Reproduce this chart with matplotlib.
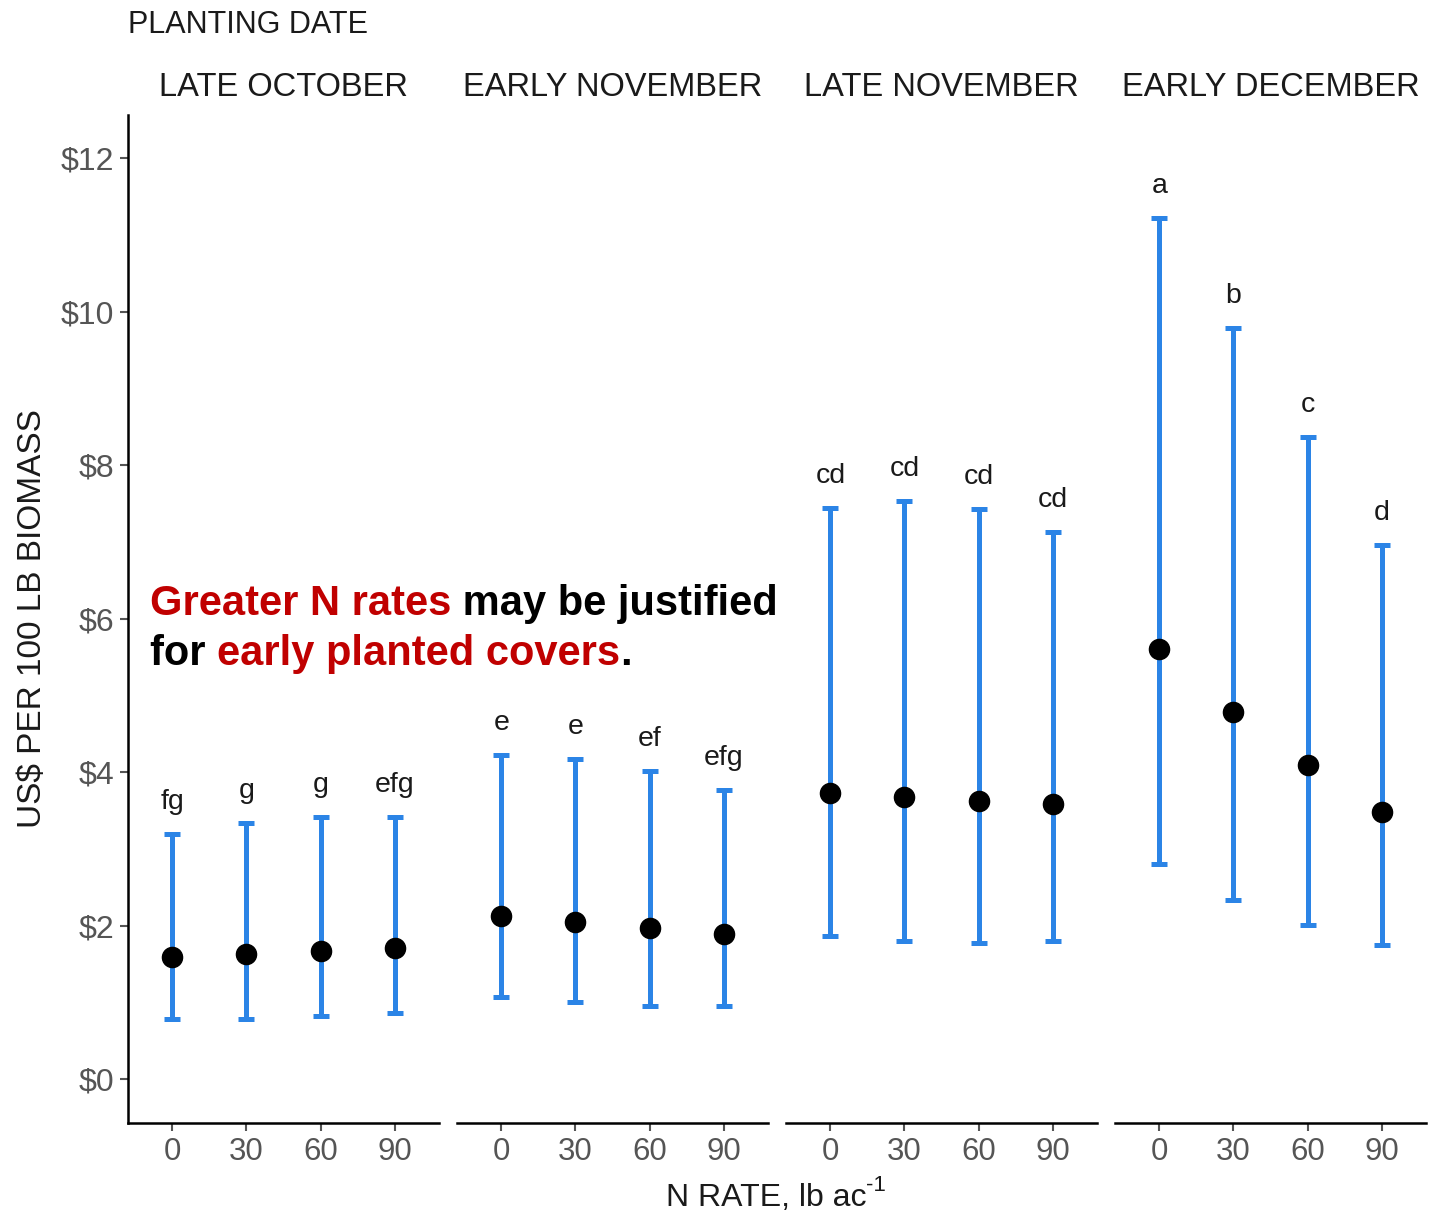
import numpy as np
import matplotlib
matplotlib.use("Agg")
import matplotlib.pyplot as plt

plt.rcParams["font.family"] = ["Liberation Sans", "DejaVu Sans"]

# planting dates (one panel each) and N rates
dates = ["LATE OCTOBER", "EARLY NOVEMBER", "LATE NOVEMBER", "EARLY DECEMBER"]
n_rates = ["0", "30", "60", "90"]

# cost, US$ per 100 lb biomass: mean, lower and upper limits
mean = [
    [1.59, 1.63, 1.67, 1.71],
    [2.12, 2.05, 1.97, 1.89],
    [3.73, 3.67, 3.62, 3.58],
    [5.60, 4.78, 4.09, 3.48],
]
lower = [
    [0.79, 0.79, 0.82, 0.86],
    [1.07, 1.00, 0.96, 0.95],
    [1.86, 1.80, 1.77, 1.80],
    [2.81, 2.33, 2.01, 1.75],
]
upper = [
    [3.19, 3.34, 3.41, 3.41],
    [4.22, 4.17, 4.01, 3.77],
    [7.44, 7.53, 7.43, 7.13],
    [11.22, 9.78, 8.36, 6.96],
]
letters = [
    ["fg", "g", "g", "efg"],
    ["e", "e", "ef", "efg"],
    ["cd", "cd", "cd", "cd"],
    ["a", "b", "c", "d"],
]

blue = "#2b84e6"
grey = "#555555"
dark = "#1a1a1a"

fig = plt.figure(figsize=(14.29, 12.13), dpi=100)
W, H = 1429, 1213
panel_left = [128, 457, 786, 1115]
panel_w = 311
top_px, bot_px = 115, 1123

for i, d in enumerate(dates):
    ax = fig.add_axes([panel_left[i] / W, 1 - bot_px / H, panel_w / W, (bot_px - top_px) / H])
    x = np.arange(len(n_rates))
    m = np.array(mean[i])
    lo = np.array(lower[i])
    hi = np.array(upper[i])
    ax.errorbar(x, m, yerr=[m - lo, hi - m], fmt="none", ecolor=blue,
                elinewidth=3.6, capsize=5.5, capthick=3.6, zorder=2)
    ax.plot(x, m, "o", color="black", markersize=14.5, zorder=3)
    for xi, hv, lab in zip(x, hi, letters[i]):
        ax.annotate(lab, (xi, hv), xytext=(0, 18), textcoords="offset points",
                    ha="center", va="baseline", fontsize=20.5, color=dark)
    ax.set_xlim(-0.6, 3.6)
    ax.set_ylim(-0.57, 12.56)
    ax.set_xticks(x)
    ax.set_xticklabels(n_rates)
    ax.tick_params(axis="x", labelsize=22.5, labelcolor=grey, color=grey, length=6, width=1.5, pad=4)
    for s in ["top", "right"]:
        ax.spines[s].set_visible(False)
    ax.spines["bottom"].set_linewidth(1.8)
    if i == 0:
        ax.spines["left"].set_linewidth(1.8)
        ax.set_yticks(np.arange(0, 13, 2))
        ax.set_yticklabels([f"${v}" for v in range(0, 13, 2)])
        ax.tick_params(axis="y", labelsize=23, labelcolor=grey, color=grey, length=6, width=1.5, pad=4)
        ax.set_ylabel("US$ PER 100 LB BIOMASS", fontsize=24, color=dark, labelpad=9)
    else:
        ax.spines["left"].set_visible(False)
        ax.set_yticks([])
    ax.set_title(d, fontsize=23.5, color=dark, pad=14)

fig.text(128 / W, 1 - 25 / H, "PLANTING DATE", fontsize=22, color=dark,
         ha="left", va="center")

renderer = fig.canvas.get_renderer()

# x-axis title with a hyphen superscript
xl = fig.text(0, 1 - 1206 / H, "N RATE, lb ac", fontsize=23, color=dark,
              ha="left", va="baseline")
xw = xl.get_window_extent(renderer=renderer).width
sup = fig.text(0, 1 - 1191 / H, "-1", fontsize=16, color=dark,
               ha="left", va="baseline")
sw = sup.get_window_extent(renderer=renderer).width
x0 = 776 - (xw + sw) / 2
xl.set_x(x0 / W)
sup.set_x((x0 + xw) / W)

# two-colour callout, drawn piece by piece
red = "#c00000"
lines = [
    [("Greater N rates", red), (" may be justified", "black")],
    [("for ", "black"), ("early planted covers", red), (".", "black")],
]
baselines = [615, 665]
for parts, yb in zip(lines, baselines):
    xp = 150
    for txt, col in parts:
        t = fig.text(xp / W, 1 - yb / H, txt, fontsize=30, fontweight="bold",
                     color=col, ha="left", va="baseline")
        bb = t.get_window_extent(renderer=renderer)
        xp += bb.width

fig.savefig("out.png", dpi=100)
